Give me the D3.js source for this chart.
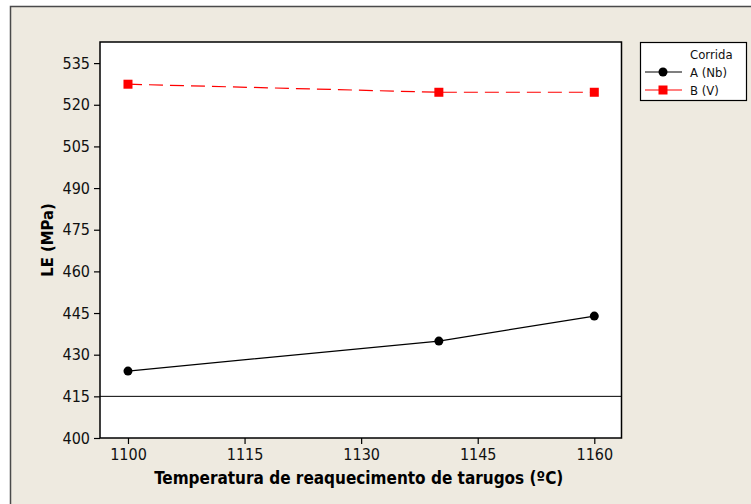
<!DOCTYPE html>
<html><head><meta charset="utf-8">
<script src="https://cdn.jsdelivr.net/npm/d3@7"></script>
<style>body{margin:0;background:#fff}svg{display:block}</style>
</head><body>
<script>
const temps = [1100, 1140, 1160];
const seriesNames = ["A (Nb)", "B (V)"];
const valuesA = [424.1, 434.9, 443.9];
const valuesB = [527.4, 524.5, 524.5];
const xTicks = [1100, 1115, 1130, 1145, 1160];
const yTicks = [400, 415, 430, 445, 460, 475, 490, 505, 520, 535];
const refLine = 415;

const W = 751, H = 504;
const svg = d3.select("body").append("svg").attr("width", W).attr("height", H);
const font = "'DejaVu Sans Condensed', 'DejaVu Sans', sans-serif";

svg.append("rect").attr("x", 10.5).attr("y", 6.5).attr("width", W + 10).attr("height", H + 10)
  .attr("fill", "#EEEAE0").attr("stroke", "#4a4a4a").attr("stroke-width", 1.5);

const L = 100, R = 621.5, T = 42, B = 438;
const x = d3.scaleLinear().domain([1096.4, 1163.5]).range([L, R]);
const y = d3.scaleLinear().domain([400, 542.6]).range([B, T]);

svg.append("rect").attr("x", L).attr("y", T).attr("width", R - L).attr("height", B - T)
  .attr("fill", "#fff").attr("stroke", "#000").attr("stroke-width", 1.5);

const xAxis = svg.append("g").attr("transform", `translate(0,${B})`)
  .call(d3.axisBottom(x).tickValues(xTicks).tickSizeOuter(0).tickSize(6).tickPadding(5).tickFormat(d3.format("d")));
const yAxis = svg.append("g").attr("transform", `translate(${L},0)`)
  .call(d3.axisLeft(y).tickValues(yTicks).tickSizeOuter(0).tickSize(6).tickPadding(4).tickFormat(d3.format("d")));
[xAxis, yAxis].forEach(a => {
  a.select(".domain").remove();
  a.selectAll("line").attr("stroke", "#000").attr("stroke-width", 1.2);
  a.selectAll("text").attr("font-family", font).attr("font-size", 16).attr("fill", "#111");
});

svg.append("line").attr("x1", L).attr("x2", R).attr("y1", y(refLine)).attr("y2", y(refLine))
  .attr("stroke", "#000").attr("stroke-width", 1);

const line = d3.line().x((d, i) => x(temps[i])).y(d => y(d));
svg.append("path").datum(valuesA).attr("d", line).attr("fill", "none").attr("stroke", "#000").attr("stroke-width", 1.2);
svg.append("path").datum(valuesB).attr("d", line).attr("fill", "none").attr("stroke", "#ff0000")
  .attr("stroke-width", 1.2).attr("stroke-dasharray", "14,7");

svg.selectAll(".ma").data(valuesA).join("circle").attr("cx", (d, i) => x(temps[i])).attr("cy", d => y(d))
  .attr("r", 4.5).attr("fill", "#000");
svg.selectAll(".mb").data(valuesB).join("rect").attr("x", (d, i) => x(temps[i]) - 4.5).attr("y", d => y(d) - 4.5)
  .attr("width", 9).attr("height", 9).attr("fill", "#ff0000");

svg.append("text").attr("x", (L + R) / 2 - 2).attr("y", 484).attr("text-anchor", "middle")
  .attr("font-family", font).attr("font-weight", "bold").attr("font-size", 17).attr("fill", "#000")
  .text("Temperatura de reaquecimento de tarugos (ºC)");
svg.append("text").attr("transform", `translate(53,${(T + B) / 2}) rotate(-90)`).attr("text-anchor", "middle")
  .attr("font-family", font).attr("font-weight", "bold").attr("font-size", 16.5).attr("fill", "#000")
  .text("LE (MPa)");

// legend
const lg = svg.append("g");
lg.append("rect").attr("x", 640.5).attr("y", 42.5).attr("width", 106).attr("height", 58)
  .attr("fill", "#fff").attr("stroke", "#000").attr("stroke-width", 1.2);
lg.append("text").attr("x", 690).attr("y", 59).attr("font-family", font).attr("font-size", 13).attr("fill", "#111").text("Corrida");
const rows = [72, 90];
lg.selectAll(".ll").data(seriesNames).join("line").attr("x1", 645).attr("x2", 682)
  .attr("y1", (d, i) => rows[i]).attr("y2", (d, i) => rows[i]).attr("stroke", (d, i) => i ? "#ff0000" : "#000").attr("stroke-width", 1.2);
lg.append("circle").attr("cx", 663).attr("cy", rows[0]).attr("r", 4.5).attr("fill", "#000");
lg.append("rect").attr("x", 658.5).attr("y", rows[1] - 4.5).attr("width", 9).attr("height", 9).attr("fill", "#ff0000");
lg.selectAll(".lt").data(seriesNames).join("text").attr("x", 690).attr("y", (d, i) => rows[i] + 5)
  .attr("font-family", font).attr("font-size", 13).attr("fill", "#111").text(d => d);
</script>
</body></html>
